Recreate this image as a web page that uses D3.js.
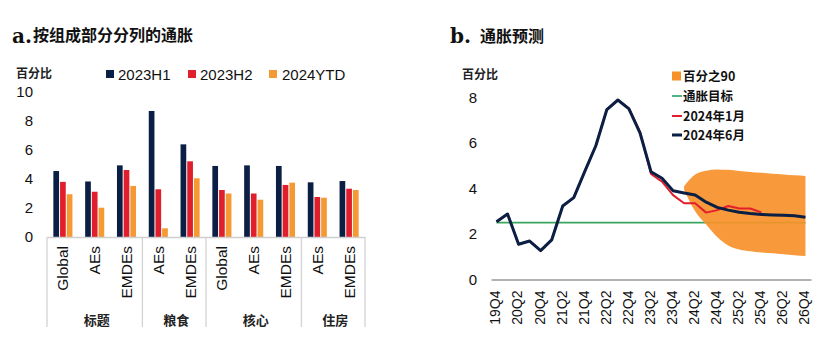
<!DOCTYPE html>
<html><head><meta charset="utf-8">
<script src="https://cdn.jsdelivr.net/npm/d3@7"></script>
<style>
body{margin:0;background:#fff;}
text{font-family:"Liberation Sans",Arial,sans-serif;}
text.cjk{font-family:"Noto Sans CJK SC",sans-serif;}
text.serif{font-family:"DejaVu Serif","Liberation Serif",serif;}
</style></head>
<body>
<svg id="c" width="835" height="357"></svg>
<script>
// ---------- Panel a data ----------
const categories = ["Global","AEs","EMDEs","AEs","EMDEs","Global","AEs","EMDEs","AEs","EMDEs"];
const groups = [{name:"标题",n:3},{name:"粮食",n:2},{name:"核心",n:3},{name:"住房",n:2}];
const seriesA = ["2023H1","2023H2","2024YTD"];
const h1_2023 = [4.55,3.83,4.94,8.69,6.39,4.9,4.94,4.9,3.77,3.86];
const h2_2023 = [3.8,3.12,4.62,3.29,5.22,3.24,3.0,3.59,2.76,3.33];
const ytd_2024 = [2.95,2.02,3.52,0.6,4.05,3.0,2.57,3.75,2.71,3.24];
const yTicksA = [0,2,4,6,8,10];

// ---------- Panel b data ----------
const quarters = ["19Q4","20Q1","20Q2","20Q3","20Q4","21Q1","21Q2","21Q3","21Q4","22Q1","22Q2","22Q3","22Q4",
  "23Q1","23Q2","23Q3","23Q4","24Q1","24Q2","24Q3","24Q4","25Q1","25Q2","25Q3","25Q4","26Q1","26Q2","26Q3","26Q4"];
const xTickLabelsB = ["19Q4","20Q2","20Q4","21Q2","21Q4","22Q2","22Q4","23Q2","23Q4","24Q2","24Q4","25Q2","25Q4","26Q2","26Q4"];
const jun2024 = [2.54,2.88,1.55,1.69,1.27,1.74,3.23,3.6,4.75,5.88,7.47,7.89,7.5,6.45,4.74,4.45,3.9,3.8,3.71,3.4,3.17,3.05,2.96,2.9,2.86,2.84,2.82,2.8,2.74];
const jan2024 = [2.54,2.88,1.55,1.69,1.27,1.74,3.23,3.6,4.75,5.88,7.47,7.89,7.52,6.5,4.64,4.3,3.71,3.35,3.35,2.94,3.05,3.23,3.12,3.12,2.95];
const bandQuarters = ["24Q1","24Q2","24Q3","24Q4","25Q1","25Q2","25Q3","25Q4","26Q1","26Q2","26Q3","26Q4"];
const bandLow  = [3.95,3.0,2.42,1.87,1.5,1.32,1.24,1.19,1.15,1.11,1.07,1.03];
const bandHigh = [4.1,4.62,4.78,4.84,4.82,4.77,4.73,4.69,4.65,4.62,4.58,4.55];
const target = 2.5;
const yTicksB = [0,2,4,6,8];

const C = {navy:"#0b1f44", red:"#e11f2c", orange:"#f39a35", band:"#f7912a", green:"#3aa55f"};
const svg = d3.select("#c");

// ================= Panel a =================
const gA = svg.append("g");
gA.append("text").attr("class","serif").attr("x",12).attr("y",43)
  .attr("font-weight","bold").attr("font-size",20).attr("fill","#111").text("a.");
gA.append("text").attr("class","cjk").attr("x",33).attr("y",41).attr("font-size",16).attr("font-weight",600).attr("fill","#111").text("按组成部分分列的通胀");
gA.append("text").attr("class","cjk").attr("x",16).attr("y",78).attr("font-size",12).attr("font-weight",700).attr("fill","#222").text("百分比");

const x0 = d3.scaleBand().domain(d3.range(categories.length)).range([47,365]).paddingInner(0).paddingOuter(0);
const x1 = d3.scaleBand().domain(seriesA).range([0,x0.bandwidth()]).paddingInner(0.15).paddingOuter(0.95);
const yA = d3.scaleLinear().domain([0,10]).range([237,92]);
const colA = d3.scaleOrdinal().domain(seriesA).range([C.navy,C.red,C.orange]);
const valsA = {"2023H1":h1_2023,"2023H2":h2_2023,"2024YTD":ytd_2024};

// legend a
const legA = [[106,118],[188,200],[269,282]];
seriesA.forEach((s,i)=>{
  gA.append("rect").attr("x",legA[i][0]).attr("y",70).attr("width",8).attr("height",8).attr("fill",colA(s));
  gA.append("text").attr("x",legA[i][1]).attr("y",80).attr("font-size",15).attr("fill","#111").text(s);
});

// y axis a
const axA = gA.append("g").attr("transform","translate(36,0)")
  .call(d3.axisLeft(yA).tickValues(yTicksA).tickSize(0).tickPadding(3));
axA.select(".domain").remove();
axA.selectAll("text").attr("font-size",15).attr("fill","#111");

// bars
seriesA.forEach(s=>{
  gA.append("g").selectAll("rect").data(valsA[s]).join("rect")
    .attr("x",(d,i)=>x0(i)+x1(s)).attr("width",x1.bandwidth())
    .attr("y",d=>yA(d)).attr("height",d=>yA(0)-yA(d)).attr("fill",colA(s));
});

// x axis a
const axXA = gA.append("g").attr("transform",`translate(0,${yA(0)})`)
  .call(d3.axisBottom(x0).tickSize(0).tickFormat(i=>categories[i]));
axXA.select(".domain").attr("stroke","#cfcfcf").attr("stroke-width",1.3);
axXA.selectAll(".tick text").attr("font-size",15.5).attr("fill","#111")
  .attr("text-anchor","end").attr("transform","translate(0,9) rotate(-90)").attr("y",0).attr("dy","0.35em").attr("x",0);

// group separators and labels
let idx = 0;
const bounds = [0];
groups.forEach(g=>{ idx += g.n; bounds.push(idx); });
bounds.forEach(b=>{
  const xx = b<categories.length ? x0(b) : x0(categories.length-1)+x0.bandwidth();
  gA.append("line").attr("x1",xx).attr("x2",xx).attr("y1",yA(0)).attr("y2",327).attr("stroke","#d3d3d3").attr("stroke-width",1.3);
});
groups.forEach((g,i)=>{
  const xa = x0(bounds[i]);
  const xb = bounds[i+1]<categories.length ? x0(bounds[i+1]) : x0(categories.length-1)+x0.bandwidth();
  gA.append("text").attr("class","cjk").attr("x",(xa+xb)/2+2).attr("y",325).attr("text-anchor","middle")
    .attr("font-size",13).attr("font-weight",600).attr("fill","#222").text(g.name);
});

// ================= Panel b =================
const gB = svg.append("g");
gB.append("text").attr("class","serif").attr("x",450).attr("y",43)
  .attr("font-weight","bold").attr("font-size",20).attr("fill","#111").text("b.");
gB.append("text").attr("class","cjk").attr("x",480).attr("y",42).attr("font-size",16).attr("font-weight",600).attr("fill","#111").text("通胀预测");
gB.append("text").attr("class","cjk").attr("x",462).attr("y",79).attr("font-size",12).attr("font-weight",700).attr("fill","#222").text("百分比");

const xB = d3.scaleBand().domain(quarters).range([491,811]).paddingInner(0).paddingOuter(0);
const cx = q => xB(q)+xB.bandwidth()/2;
const yB = d3.scaleLinear().domain([0,8]).range([279.5,97.5]);

const axYB = gB.append("g").attr("transform","translate(480,0)")
  .call(d3.axisLeft(yB).tickValues(yTicksB).tickSize(0).tickPadding(3));
axYB.select(".domain").remove();
axYB.selectAll("text").attr("font-size",15).attr("fill","#111");

// target line (under the band)
gB.append("line").attr("x1",cx(quarters[0])).attr("x2",cx(quarters[quarters.length-1]))
  .attr("y1",yB(target)).attr("y2",yB(target)).attr("stroke",C.green).attr("stroke-width",1.6);

// band
const bandData = bandQuarters.map((q,i)=>({q,lo:bandLow[i],hi:bandHigh[i]}));
gB.append("path").datum(bandData)
  .attr("d",d3.area().x(d=>cx(d.q)).y0(d=>yB(d.lo)).y1(d=>yB(d.hi)).curve(d3.curveMonotoneX))
  .attr("fill",C.band).attr("fill-opacity",0.92);

// lines
const lineGen = d3.line().x((d,i)=>cx(quarters[i])).y(d=>yB(d));
gB.append("path").datum(jan2024).attr("d",lineGen).attr("fill","none").attr("stroke",C.red).attr("stroke-width",2).attr("stroke-linejoin","round");
gB.append("path").datum(jun2024).attr("d",lineGen).attr("fill","none").attr("stroke",C.navy).attr("stroke-width",3).attr("stroke-linejoin","round");

// x axis b
const axXB = gB.append("g").attr("transform",`translate(0,${yB(0)})`)
  .call(d3.axisBottom(xB).tickValues(xTickLabelsB).tickSize(0).tickSizeOuter(0));
axXB.select(".domain").attr("stroke","#666").attr("stroke-width",1.2);
axXB.selectAll(".tick text").attr("font-size",14).attr("fill","#111")
  .attr("text-anchor","end").attr("transform","translate(-1,11) rotate(-90)").attr("y",0).attr("x",0).attr("dy","0.35em");

// legend b
const legB = [
  {t:"百分之90",type:"rect",c:C.band,y:76},
  {t:"通胀目标",type:"line",c:"#4fb38a",y:96},
  {t:"2024年1月",type:"line",c:C.red,y:116},
  {t:"2024年6月",type:"line",c:C.navy,y:135}
];
legB.forEach(l=>{
  if(l.type==="rect") gB.append("rect").attr("x",672).attr("y",l.y-4.5).attr("width",9).attr("height",9).attr("fill",l.c);
  else gB.append("line").attr("x1",672).attr("x2",682).attr("y1",l.y).attr("y2",l.y).attr("stroke",l.c).attr("stroke-width",l.c===C.navy?3:2);
  gB.append("text").attr("class","cjk").attr("x",683).attr("y",l.y+4.5).attr("font-size",12.5).attr("font-weight",600).attr("fill","#111").text(l.t);
});
</script>
</body></html>
